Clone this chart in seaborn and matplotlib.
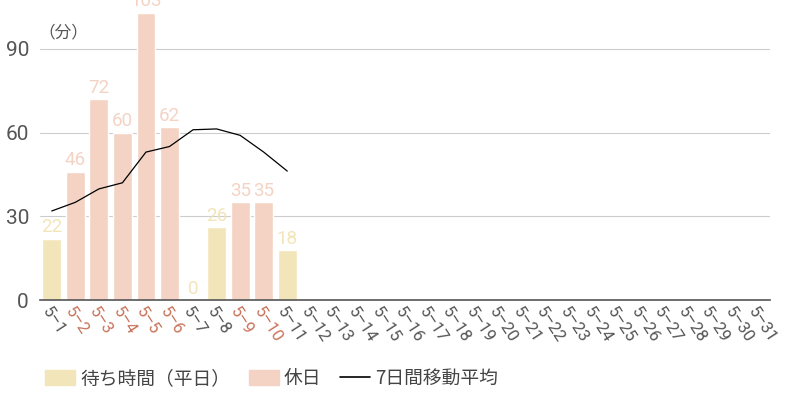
import numpy as np
import pandas as pd
import matplotlib
matplotlib.use("Agg")
import matplotlib.pyplot as plt
import seaborn as sns
from matplotlib.patches import Patch
from matplotlib.lines import Line2D

# データ（5月の待ち時間）
days = [f"5-{d}" for d in range(1, 32)]
wait = [22, 46, 72, 60, 103, 62, 0, 26, 35, 35, 18] + [np.nan] * 20
holidays = ["5-2", "5-3", "5-4", "5-5", "5-6", "5-9", "5-10"]
avg7 = [31.9, 35, 39.8, 42, 53, 55, 61, 61.3, 59, 53, 46.2] + [np.nan] * 20

col_weekday = "#f2e5b9"
col_holiday = "#f4d3c4"
col_holiday_tick = "#c8735a"
num_font = ["Roboto", "DejaVu Sans"]

sns.set_theme(style="white")
plt.rcParams["font.family"] = ["Noto Sans CJK JP", "DejaVu Sans"]

df = pd.DataFrame({"day": days, "wait": wait, "avg": avg7})
df["kind"] = np.where(df["day"].isin(holidays), "休日", "待ち時間（平日）")

fig = plt.figure(figsize=(8, 4), dpi=100)
ax = fig.add_axes([0.05, 0.25, 0.9125, 0.75])

sns.barplot(data=df, x="day", y="wait", hue="kind", order=days,
            hue_order=["待ち時間（平日）", "休日"],
            palette={"待ち時間（平日）": col_weekday, "休日": col_holiday},
            dodge=False, width=0.8, legend=False, ax=ax, saturation=1)
sns.lineplot(x=np.arange(len(days)), y=df["avg"], color="black", lw=0.9, ax=ax)

# 値ラベル
for i, row in df.iterrows():
    if pd.notna(row["wait"]):
        c = col_holiday if row["day"] in holidays else col_weekday
        ax.text(i, row["wait"] + 0.8, f"{int(row['wait'])}", ha="center", va="bottom",
                color=c, fontsize=13.5, family=num_font, clip_on=False)

ax.set_ylim(0, 107.5)
ax.set_xlim(-0.5, len(days) - 0.5)
ax.set_yticks([0, 30, 60, 90])
ax.grid(axis="y", color="#cccccc", lw=0.8)
ax.set_axisbelow(True)
for s in ["top", "right", "left"]:
    ax.spines[s].set_visible(False)
ax.spines["bottom"].set_color("#555555")
ax.spines["bottom"].set_linewidth(1.2)
ax.set_xlabel("")
ax.set_ylabel("")
ax.tick_params(axis="y", length=0, labelsize=15, labelcolor="#555555", pad=8)
ax.tick_params(axis="x", length=0, labelsize=12, pad=3)
for lab in ax.get_yticklabels():
    lab.set_family(num_font)
ax.set_xticks(range(len(days)))
ax.set_xticklabels([d.replace("-", "–") for d in days])
for lab, d in zip(ax.get_xticklabels(), days):
    lab.set_rotation(-57)
    lab.set_ha("left")
    lab.set_rotation_mode("anchor")
    lab.set_family(num_font)
    lab.set_color(col_holiday_tick if d in holidays else "#555555")

fig.text(0.048, 0.918, "（分）", fontsize=12, color="#555555", ha="left", va="center")

handles = [Patch(color=col_weekday, label="待ち時間（平日）"),
           Patch(color=col_holiday, label="休日"),
           Line2D([0], [0], color="black", lw=1.2, label="7日間移動平均")]
fig.legend(handles=handles, loc="lower left", bbox_to_anchor=(0.035, -0.015), ncol=3,
           frameon=False, fontsize=13.5, handlelength=1.6, handleheight=0.85,
           columnspacing=1.0, handletextpad=0.27, labelcolor="#444444")

fig.savefig("out.png", dpi=100)
